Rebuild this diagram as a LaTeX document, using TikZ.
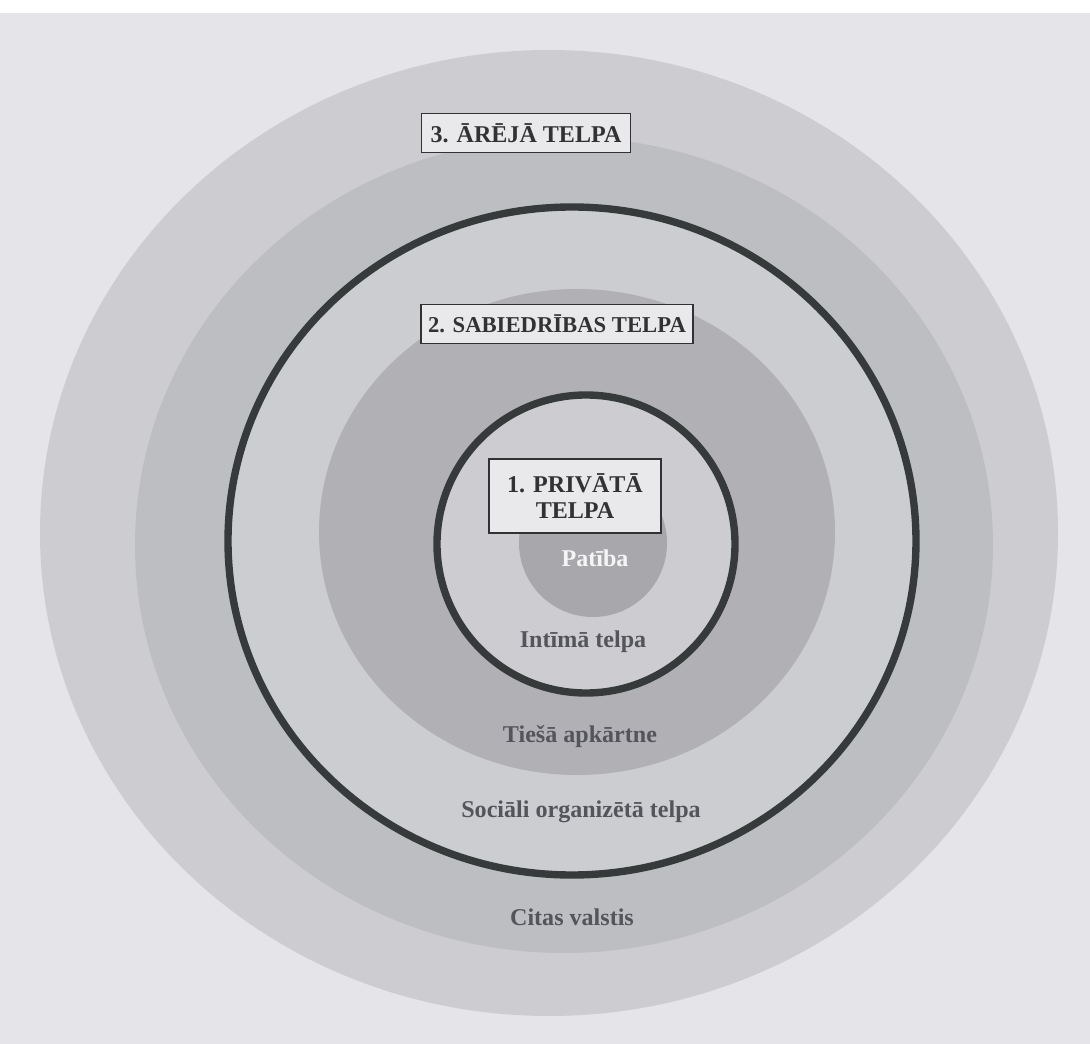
\documentclass[tikz,border=0pt]{standalone}
\usepackage{fontspec}
\setmainfont{Liberation Serif}
\definecolor{page}{RGB}{229,229,233}
\definecolor{ringthree}{RGB}{205,205,209}
\definecolor{ringtwo}{RGB}{189,190,194}
\definecolor{social}{RGB}{204,205,208}
\definecolor{near}{RGB}{176,176,181}
\definecolor{intimate}{RGB}{205,205,209}
\definecolor{self}{RGB}{168,168,172}
\definecolor{rim}{RGB}{55,58,58}
\definecolor{labelgray}{RGB}{84,85,90}
\definecolor{boxfill}{RGB}{233,233,236}
\definecolor{boxtext}{RGB}{50,50,52}
\begin{document}
\begin{tikzpicture}[x=0.02cm,y=-0.02cm]
    \tikzstyle{ringtext}=[font=\fontsize{13.7}{15}\selectfont\bfseries, text=labelgray]
    \tikzstyle{titlebox}=[ringtext, draw=boxtext, line width=0.7pt, fill=boxfill, text=boxtext, inner xsep=5pt, minimum height=22pt]
    \tikzstyle{rimline}=[draw=rim, line width=4.2pt]
    \fill[page] (0,0) rectangle (1090,1044);
    \fill[white] (0,0) rectangle (1090,13);
    \useasboundingbox (0,0) rectangle (1090,1044);
    % discs, outside in
    \fill[ringthree] (549,533) ellipse (509 and 483);
    \fill[ringtwo]   (564,545) ellipse (429 and 408);
    \fill[social]    (572,541) ellipse (344 and 334);
    \fill[near]      (577,532) ellipse (258 and 243);
    \fill[intimate]  (586,544) circle (149);
    \fill[self]      (593,543) circle (74);
    \draw[rimline]   (572,541) ellipse (344 and 334);
    \draw[rimline]   (586,544) circle (149);

    \node[titlebox] (areja) at (526,133) {3. ĀRĒJĀ TELPA};
    \node[titlebox, font=\fontsize{12.9}{15}\selectfont\bfseries, inner xsep=4pt] (sabiedriba) at (557,324) {2. SABIEDRĪBAS TELPA};
    \node[titlebox, align=center, minimum width=98pt, minimum height=42pt] (privata) at (575,496) {1. PRIVĀTĀ\\TELPA};
    \node[ringtext, text=white!92!gray] (patiba) at (595,558) {Patība};
    \node[ringtext] (intima) at (583,642) {Intīmā telpa};
    \node[ringtext] (tiesa) at (580,737) {Tiešā apkārtne};
    \node[ringtext] (sociala) at (581,812) {Sociāli organizētā telpa};
    \node[ringtext] (citas) at (572,917) {Citas valstis};
\end{tikzpicture}
\end{document}
